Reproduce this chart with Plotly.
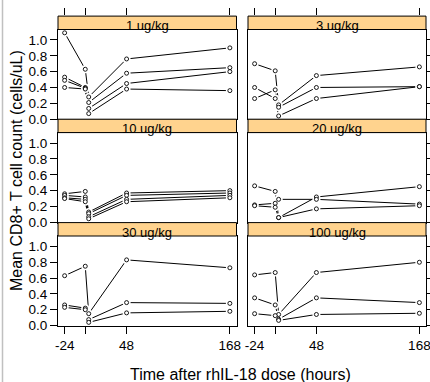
import plotly.graph_objects as go

# ---------------- data ----------------
times = [-24, 0, 4, 48, 168]
x_tick_vals = [-24, 0, 48, 168]
x_tick_text = ["-24", "", "48", "168"]
y_tick_vals = [0.0, 0.2, 0.4, 0.6, 0.8, 1.0]
y_tick_text = ["0.0", "0.2", "0.4", "0.6", "0.8", "1.0"]

dose_labels = ["1 ug/kg", "3 ug/kg", "10 ug/kg", "20 ug/kg", "30 ug/kg", "100 ug/kg"]

dose_1 = [
    [1.09, 0.63, 0.28, 0.76, 0.90],
    [0.53, 0.40, 0.21, 0.58, 0.65],
    [0.49, 0.39, 0.135, 0.45, 0.60],
    [0.40, 0.38, 0.07, 0.38, 0.36],
]
dose_3 = [
    [0.70, 0.61, 0.18, 0.55, 0.66],
    [0.40, 0.26, 0.04, 0.26, 0.41],
    [0.26, 0.37, 0.15, 0.40, 0.41],
]
dose_10 = [
    [0.36, 0.39, 0.13, 0.37, 0.40],
    [0.34, 0.32, 0.11, 0.34, 0.37],
    [0.31, 0.29, 0.07, 0.29, 0.34],
    [0.30, 0.26, 0.045, 0.26, 0.31],
]
dose_20 = [
    [0.46, 0.39, 0.06, 0.32, 0.45],
    [0.22, 0.24, 0.29, 0.29, 0.23],
    [0.21, 0.19, 0.06, 0.17, 0.21],
]
dose_30 = [
    [0.63, 0.75, 0.15, 0.83, 0.73],
    [0.26, 0.22, 0.075, 0.29, 0.28],
    [0.23, 0.20, 0.04, 0.16, 0.18],
]
dose_100 = [
    [0.64, 0.67, 0.14, 0.67, 0.80],
    [0.35, 0.26, 0.08, 0.35, 0.29],
    [0.15, 0.125, 0.065, 0.14, 0.155],
]
panels = [dose_1, dose_3, dose_10, dose_20, dose_30, dose_100]

# ---------------- layout geometry (pixels) ----------------
W, H = 430, 382
cols = [(58, 236.5), (248, 426)]
rows = [(29.5, 119.3), (132.6, 222.5), (236, 325.7)]
strip_h = 13.4
x_range = [-31.7, 175.7]
y_range = [-0.002, 1.132]
FONT = "Arial, Liberation Sans, sans-serif"
strip_color = "#FFD38E"


def fx(px):
    return px / W


def fy(px):
    return 1 - px / H


fig = go.Figure()
layout = dict(
    width=W, height=H,
    margin=dict(l=0, r=0, t=0, b=0, autoexpand=False),
    paper_bgcolor="white", plot_bgcolor="white",
    showlegend=False,
    font=dict(family=FONT, size=13, color="black"),
    shapes=[], annotations=[],
)

for k, series in enumerate(panels):
    r, c = divmod(k, 2)
    n = k + 1
    xa = "x" if n == 1 else f"x{n}"
    ya = "y" if n == 1 else f"y{n}"
    xkey = "xaxis" if n == 1 else f"xaxis{n}"
    ykey = "yaxis" if n == 1 else f"yaxis{n}"

    lx, ly = [], []
    for s in series:
        lx += times + [None]
        ly += s + [None]
    fig.add_trace(go.Scatter(x=lx, y=ly, mode="lines", xaxis=xa, yaxis=ya,
                             line=dict(color="black", width=1), hoverinfo="skip"))
    px_, py_ = [], []
    for s in series:
        px_ += times
        py_ += s
    fig.add_trace(go.Scatter(x=px_, y=py_, mode="markers", xaxis=xa, yaxis=ya,
                             marker=dict(size=8, color="white", line=dict(width=0)),
                             hoverinfo="skip"))
    fig.add_trace(go.Scatter(x=px_, y=py_, mode="markers", xaxis=xa, yaxis=ya,
                             marker=dict(size=4, color="white", symbol="circle",
                                         line=dict(width=0.9, color="black")),
                             hoverinfo="skip"))

    x0, x1 = cols[c]
    y0, y1 = rows[r]
    bottom = (r == 2)
    layout[xkey] = dict(
        domain=[fx(x0), fx(x1)], anchor=ya, range=x_range, automargin=False,
        showline=True, mirror=True, linecolor="black", linewidth=1,
        showgrid=False, zeroline=False,
        tickvals=x_tick_vals, ticktext=x_tick_text,
        ticks="outside" if bottom else "", ticklen=7, tickcolor="black",
        showticklabels=bottom, tickfont=dict(size=13.5, family=FONT),
        ticklabeloverflow="allow",
    )
    layout[ykey] = dict(
        domain=[fy(y1), fy(y0)], anchor=xa, range=y_range, automargin=False,
        showline=True, mirror=True, linecolor="black", linewidth=1,
        showgrid=False, zeroline=False,
        tickvals=y_tick_vals, ticktext=y_tick_text,
        ticks="outside", ticklen=7, tickcolor="black",
        side="left" if c == 0 else "right",
        showticklabels=(c == 0), tickfont=dict(size=13.5, family=FONT),
    )
    sy1 = y0
    sy0 = y0 - strip_h
    layout["shapes"].append(dict(type="rect", xref="paper", yref="paper",
                                 x0=fx(x0), x1=fx(x1), y0=fy(sy1), y1=fy(sy0),
                                 fillcolor=strip_color, line=dict(color="black", width=1),
                                 layer="above"))
    layout["annotations"].append(dict(
        text=dose_labels[k], xref="paper", yref="paper",
        x=fx((x0 + x1) / 2), y=fy(sy1 - 4), xanchor="center", yanchor="middle",
        showarrow=False, font=dict(size=13, family=FONT, color="black")))

# top tick axes above the first-row strips
for j, c in enumerate([0, 1]):
    n = 7 + j
    x0, x1 = cols[c]
    fig.add_trace(go.Scatter(x=[None], y=[None], xaxis=f"x{n}", yaxis=f"y{n}",
                             mode="markers", hoverinfo="skip"))
    layout[f"xaxis{n}"] = dict(
        domain=[fx(x0), fx(x1)], anchor=f"y{n}", range=x_range, side="top",
        automargin=False,
        showline=False, showgrid=False, zeroline=False,
        tickvals=x_tick_vals, ticks="outside", ticklen=7, tickcolor="black",
        showticklabels=False)
    layout[f"yaxis{n}"] = dict(
        domain=[fy(rows[0][0]), fy(rows[0][0] - strip_h)], anchor=f"x{n}",
        range=[0, 1], visible=False, automargin=False)

# axis titles
layout["annotations"].append(dict(
    text="Time after rhIL-18 dose (hours)", xref="paper", yref="paper",
    x=fx(240.5), y=fy(374), xanchor="center", yanchor="middle", showarrow=False,
    font=dict(size=16, family=FONT, color="black")))
layout["annotations"].append(dict(
    text="Mean CD8+ T cell count (cells/uL)", xref="paper", yref="paper",
    x=fx(16), y=fy(171), xanchor="center", yanchor="middle", showarrow=False,
    textangle=-90, font=dict(size=16, family=FONT, color="black")))

layout["shapes"].append(dict(type="line", xref="paper", yref="paper",
                             x0=fx(2.5), x1=fx(2.5), y0=0, y1=1,
                             line=dict(color="#c0c0c0", width=1.5)))

fig.update_layout(**layout)
fig.write_html(
    "out.html",
    config={"displayModeBar": False},
    post_script="document.body.style.margin='0';document.body.style.overflow='hidden';",
)
